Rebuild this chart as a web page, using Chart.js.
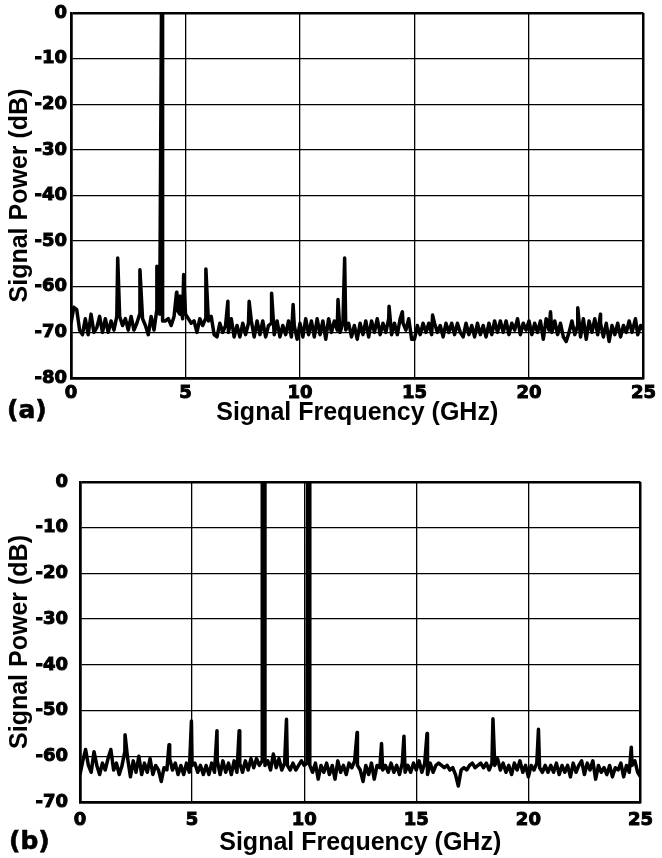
<!DOCTYPE html>
<html>
<head>
<meta charset="utf-8">
<script src="https://cdn.jsdelivr.net/npm/chart.js@4"></script>
<style>
body { margin: 0; background: #fff; }
.panel { position: absolute; left: 0; width: 662px; }
.tag { position: absolute; font: bold 25px "DejaVu Sans", Arial, sans-serif; color: #000; -webkit-text-stroke: 0.6px #000; }
</style>
</head>
<body>
<div class="panel" style="top:0;height:430px"><canvas id="chartA" width="662" height="430"></canvas></div>
<div class="panel" style="top:430px;height:428px"><canvas id="chartB" width="662" height="428"></canvas></div>
<div class="tag" style="left:7px;top:395px">(a)</div>
<div class="tag" style="left:9px;top:826px">(b)</div>
<script>
// spectrum sampled every 0.125 GHz, one row per GHz
var FREQ_STEP = 0.125;

var floorA = [
  -68, -64.5, -65, -69.5, -70.5, -67, -70.5, -66,
  -70, -69, -66.5, -70, -67, -70, -67.5, -69.5,
  -66.5, -66.5, -68.5, -67, -69.5, -66.5, -69.5, -68,
  -66, -67, -68.5, -70.5, -66.5, -69.5, -65, -66,
  -67.5, -67.5, -67, -68.5, -66.5, -65, -66, -67,
  -66, -67, -68, -67.5, -70, -67, -68.5, -67,
  -67.5, -66.5, -70.5, -71, -68, -70, -68.5, -70,
  -67, -71, -68.5, -71, -68, -70.5, -68, -67.5,
  -71, -67.5, -70.5, -67.5, -71, -68.5, -68, -70.5,
  -67.5, -71, -68.5, -70.5, -67.5, -71, -68.5, -71.5,
  -68, -71, -67, -70.5, -67.5, -71, -67, -70.5,
  -67.5, -71.5, -67, -70, -67.5, -69.5, -70, -68,
  -69.5, -68, -71, -68.5, -71.5, -68, -70.5, -67.5,
  -71, -67.5, -70, -67, -70.5, -68, -70, -67,
  -70.5, -68, -70.5, -67, -68, -69.5, -67, -71.5,
  -71.5, -68.5, -70.5, -68, -70, -68, -70.5, -68,
  -70, -68.5, -71, -68, -70, -68, -70.5, -68,
  -70, -71, -68, -70.5, -68.5, -71, -68, -70.5,
  -68.5, -71, -68, -70.5, -67.5, -70, -67.5, -70,
  -67.5, -70.5, -68, -69.5, -67, -70.5, -68, -69.5,
  -67.5, -70.5, -68, -70, -67.5, -71.5, -67, -69.5,
  -70, -67.5, -70.5, -68, -71, -72, -70, -67.5,
  -70.5, -68.5, -71, -67, -71.5, -67.5, -70, -67,
  -70.5, -68, -71, -68, -72, -68.5, -70.5, -68,
  -71, -68.5, -70, -67.5, -70, -67.5, -70.5, -68.5,
  -69.5
];
var peakFreqA  = [2.04, 3.01, 3.75, 3.95, 3.995, 4.61, 4.76, 4.92, 5.89, 6.85, 7.78, 8.76, 9.70, 11.66, 11.95, 13.89, 14.47, 15.79, 20.94, 22.13, 23.12, 24.65];
var peakPowerA = [-53.7, -56.3, -55.5, 0, 0, -61.2, -62, -57.3, -56.1, -63.2, -63.2, -61.4, -63.9, -62.8, -53.7, -64.3, -65.5, -66.2, -65.5, -64.6, -66, -67];

var floorB = [
  -64, -61, -58.5, -62, -63.5, -59, -62, -64,
  -61.5, -63, -60.5, -58.5, -63, -61.5, -64, -62,
  -59, -60.5, -64.5, -61, -63.5, -60, -64, -61.5,
  -63.5, -60.5, -64, -62, -63, -65.5, -62.5, -63,
  -60.5, -63, -61.5, -64, -62, -64, -61.5, -63.5,
  -62, -61.5, -63.5, -62, -64, -62, -64, -61.5,
  -63.5, -61, -64, -61, -63.5, -61.5, -64, -61,
  -63.5, -61.5, -63.5, -61, -63, -60.5, -62.5, -60.5,
  -62, -61, -62, -61, -63, -59.5, -62.5, -60.5,
  -63, -61.5, -62, -63, -61.5, -63, -62, -61,
  -62, -61.5, -62, -63.5, -61.5, -65, -62, -63.5,
  -61.5, -64, -62, -65, -61, -63.5, -62, -64,
  -61.5, -62.5, -61, -62, -63, -65.5, -62, -64,
  -61.5, -65, -62, -62.5, -63, -62, -63.5, -61.5,
  -63.5, -62, -64, -61.5, -63.5, -62, -63.5, -61.5,
  -63, -61, -63.5, -61.5, -64, -61.5, -63.5, -62,
  -61.5, -62, -62.5, -62, -63, -62.5, -64, -66.5,
  -63, -62.5, -63, -62, -61.5, -62.5, -62, -61.5,
  -62.5, -61.5, -63, -61.5, -62, -60.5, -63, -61.5,
  -63.5, -62, -64, -61.5, -63, -61, -63.5, -62,
  -64.5, -62, -63, -61.5, -62.5, -63.5, -62, -63.5,
  -62, -63.5, -61.5, -64, -62, -63.5, -62, -64.5,
  -61.5, -63.5, -62, -61, -64, -61.5, -63, -61,
  -65, -62, -63.5, -62.5, -64, -62, -64.5, -62.5,
  -63, -61.5, -64.5, -62, -63.5, -62, -61, -63.5,
  -64.5
];
var peakFreqB  = [2.01, 3.97, 4.97, 6.11, 7.10, 8.13, 8.24, 9.21, 10.15, 10.24, 12.36, 13.45, 14.45, 15.48, 18.42, 20.45, 24.59];
var peakPowerB = [-55.3, -57.5, -52.3, -54.4, -54.4, 0, 0, -51.9, 0, 0, -54.8, -57.2, -55.6, -55, -51.8, -54.1, -58];

var freqTicks = [0, 5, 10, 15, 20, 25];

function buildPoints(floor, pkFreq, pkPower)
{
  var pts = floor.map(function (p, i) { return { x: i * FREQ_STEP, y: p }; });
  for (var i = 0; i < pkFreq.length; i++) {
    pts.push({ x: pkFreq[i], y: pkPower[i] });
  }
  pts.sort(function (a, b) { return a.x - b.x; });
  return pts;
}

var TICK_FONT = "'DejaVu Sans', Arial, sans-serif";
var TITLE_FONT = "'Liberation Sans', Arial, sans-serif";

function edgeWidth(lo, hi)
{
  return function (ctx) {
    var v = ctx.tick ? ctx.tick.value : null;
    return (v === lo || v === hi) ? 2.5 : 1.3;
  };
}

function plotSpectrum(id, points, yMin, lay)
{
  var tickFont = { family: TICK_FONT, size: 18, weight: "bold", lineHeight: 1 };
  var titleFont = { family: TITLE_FONT, size: 25, weight: "bold" };

  new Chart(id, {
    type: "line",
    data: {
      datasets: [{
        data: points,
        borderColor: "#000",
        borderWidth: 3.5,
        borderJoinStyle: "round",
        pointRadius: 0,
        tension: 0
      }]
    },
    options: {
      responsive: false,
      animation: false,
      layout: { padding: { top: lay.top, right: lay.right, bottom: 0, left: 0 } },
      plugins: { legend: { display: false }, tooltip: { enabled: false } },
      scales: {
        x: {
          type: "linear",
          min: 0,
          max: 25,
          afterBuildTicks: function (s) { s.ticks = freqTicks.map(function (v) { return { value: v }; }); },
          afterFit: function (s) { s.height = lay.xHeight; },
          grid: { color: "#000", lineWidth: edgeWidth(0, 25), drawTicks: false },
          border: { color: "#000", width: 2.5 },
          ticks: { color: "#000", textStrokeColor: "#000", textStrokeWidth: 1, padding: lay.xPad, maxRotation: 0, font: tickFont },
          title: { display: true, text: "Signal Frequency (GHz)", color: "#000", padding: { top: 0, bottom: lay.xTitlePad }, font: titleFont }
        },
        y: {
          min: yMin,
          max: 0,
          ticks: { stepSize: 10, color: "#000", textStrokeColor: "#000", textStrokeWidth: 1, padding: lay.yPad, font: tickFont },
          afterFit: function (s) { s.width = lay.yWidth; },
          grid: { color: "#000", lineWidth: edgeWidth(yMin, 0), drawTicks: false },
          border: { color: "#000", width: 2.5 },
          title: { display: true, text: "Signal Power (dB)", color: "#000", padding: { top: 5, bottom: 0 }, font: titleFont }
        }
      }
    }
  });
}

plotSpectrum("chartA", buildPoints(floorA, peakFreqA, peakPowerA), -80,
  { top: 11, right: 18, xHeight: 52, xPad: 6, xTitlePad: 2, yWidth: 71, yPad: 4 });
plotSpectrum("chartB", buildPoints(floorB, peakFreqB, peakPowerB), -70,
  { top: 52, right: 15, xHeight: 56, xPad: 9, xTitlePad: 0, yWidth: 80, yPad: 12 });
</script>
</body>
</html>
